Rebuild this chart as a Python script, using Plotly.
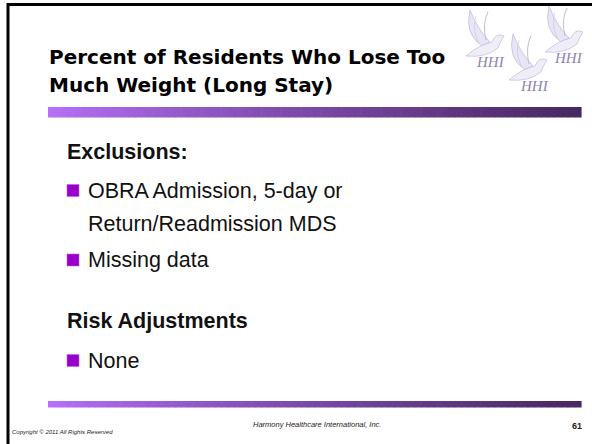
import plotly.graph_objects as go

# ---- slide content ----
title_lines = ["Percent of Residents Who Lose Too", "Much Weight (Long Stay)"]
section_heads = ["Exclusions:", "Risk Adjustments"]
exclusion_items = [["OBRA Admission, 5-day or", "Return/Readmission MDS"], ["Missing data"]]
risk_items = [["None"]]
footer_left = "Copyright © 2011 All Rights Reserved"
footer_center = "Harmony Healthcare International, Inc."
page_number = "61"
logo_text = ["HHI", "HHI", "HHI"]

W, H = 592, 444
fig = go.Figure()
shapes = []
ann = []

BODY = "Liberation Sans, Arial"
TITLE = "DejaVu Sans, Verdana, Liberation Sans"
BULLET = "#9900cc"
BODY_SIZE = 21.5

# frame
shapes.append(dict(type="line", x0=7, x1=W, y0=4.5, y1=4.5, line=dict(color="black", width=3)))
shapes.append(dict(type="line", x0=8, x1=8, y0=3, y1=H, line=dict(color="black", width=3)))

# gradient bars
def grad_bar(x0, x1, y0, y1, n=80):
    c0 = (182, 112, 248)
    c1 = (72, 40, 98)
    step = (x1 - x0) / n
    for i in range(n):
        t = i / (n - 1)
        t2 = t ** 0.85
        c = tuple(round(c0[k] + (c1[k] - c0[k]) * t2) for k in range(3))
        shapes.append(dict(type="rect", x0=x0 + i * step, x1=x0 + (i + 1) * step + 0.6,
                           y0=y0, y1=y1, line=dict(width=0),
                           fillcolor="rgb(%d,%d,%d)" % c, layer="above"))

grad_bar(48, 581, 107, 117.5)
grad_bar(48, 581, 401, 407.5)

# title
for i, t in enumerate(title_lines):
    ann.append(dict(x=47, y=56.5 + i * 28.5, text="<b>%s</b>" % t, xanchor="left", yanchor="middle",
                    font=dict(family=TITLE, size=20, color="black"), showarrow=False))

def bullet(y):
    shapes.append(dict(type="rect", x0=67, x1=79, y0=y - 6, y1=y + 6,
                       fillcolor=BULLET, line=dict(color="#b866dd", width=0.6)))

def text(x, y, s, bold=False):
    ann.append(dict(x=x, y=y, text=("<b>%s</b>" % s) if bold else s, xanchor="left", yanchor="middle",
                    font=dict(family=BODY, size=BODY_SIZE, color="#111"), showarrow=False))

# Exclusions
text(65, 151.5, section_heads[0], bold=True)
ys = [[190.5, 223.5], [260]]
for item, yy in zip(exclusion_items, ys):
    bullet(yy[0])
    for line, y in zip(item, yy):
        text(86, y, line)

# Risk adjustments
text(65, 321, section_heads[1], bold=True)
for item in risk_items:
    bullet(360.5)
    text(86, 360.5, item[0])

# footer
ann.append(dict(x=10, y=432, text="<i>%s</i>" % footer_left, xanchor="left", yanchor="middle",
                font=dict(family="Liberation Sans, Arial", size=6, color="#222"), showarrow=False))
ann.append(dict(x=316.5, y=424.5, text="<i>%s</i>" % footer_center, xanchor="center", yanchor="middle",
                font=dict(family="Liberation Sans, Arial", size=7.5, color="#222"), showarrow=False))
ann.append(dict(x=584, y=426, text="<b>%s</b>" % page_number, xanchor="right", yanchor="middle",
                font=dict(family="Liberation Sans, Arial", size=9, color="#222"), showarrow=False))

# logo: three doves with HHI
def dove(cx, cy):
    edge = "rgba(185,180,215,0.8)"
    # raised back wing
    shapes.append(dict(type="path",
        path="M %f %f Q %f %f %f %f Q %f %f %f %f Z" % (cx - 2, cy + 6, cx - 20, cy - 6, cx - 14, cy - 30,
                                                      cx - 6, cy - 10, cx + 6, cy + 2),
        fillcolor="rgba(228,225,242,0.85)", line=dict(color=edge, width=0.8)))
    # body with head to the right
    shapes.append(dict(type="path",
        path="M %f %f Q %f %f %f %f Q %f %f %f %f Q %f %f %f %f Q %f %f %f %f Z" % (
            cx - 18, cy + 16, cx - 4, cy + 4, cx + 8, cy + 2,
            cx + 12, cy - 8, cx + 20, cy - 4,
            cx + 16, cy + 2, cx + 14, cy + 8,
            cx + 2, cy + 18, cx - 18, cy + 16),
        fillcolor="rgba(236,234,247,0.85)", line=dict(color=edge, width=0.8)))
    # front wing strokes
    shapes.append(dict(type="path",
        path="M %f %f Q %f %f %f %f" % (cx + 2, cy, cx - 2, cy - 16, cx + 4, cy - 28),
        line=dict(color=edge, width=1.1)))
    shapes.append(dict(type="path",
        path="M %f %f Q %f %f %f %f" % (cx - 6, cy + 2, cx - 12, cy - 12, cx - 8, cy - 24),
        line=dict(color="rgba(200,196,228,0.7)", width=0.9)))

doves = [(484, 40, 490, 62), (527, 64, 534, 86), (563, 36, 568, 58)]
for (dx, dy, tx, ty), t in zip(doves, logo_text):
    dove(dx, dy)
    ann.append(dict(x=tx, y=ty, text="<i>%s</i>" % t, xanchor="center", yanchor="middle",
                    font=dict(family="Liberation Serif, Times New Roman, serif", size=15, color="#8e82b2"),
                    showarrow=False))

fig.update_layout(
    width=W, height=H, margin=dict(l=0, r=0, t=0, b=0),
    paper_bgcolor="white", plot_bgcolor="white",
    xaxis=dict(range=[0, W], visible=False, fixedrange=True),
    yaxis=dict(range=[H, 0], visible=False, fixedrange=True),
    shapes=shapes, annotations=ann, showlegend=False,
)
fig.write_html("out.html", config={"displayModeBar": False},
               post_script="document.body.style.margin='0';document.body.style.overflow='hidden';")
